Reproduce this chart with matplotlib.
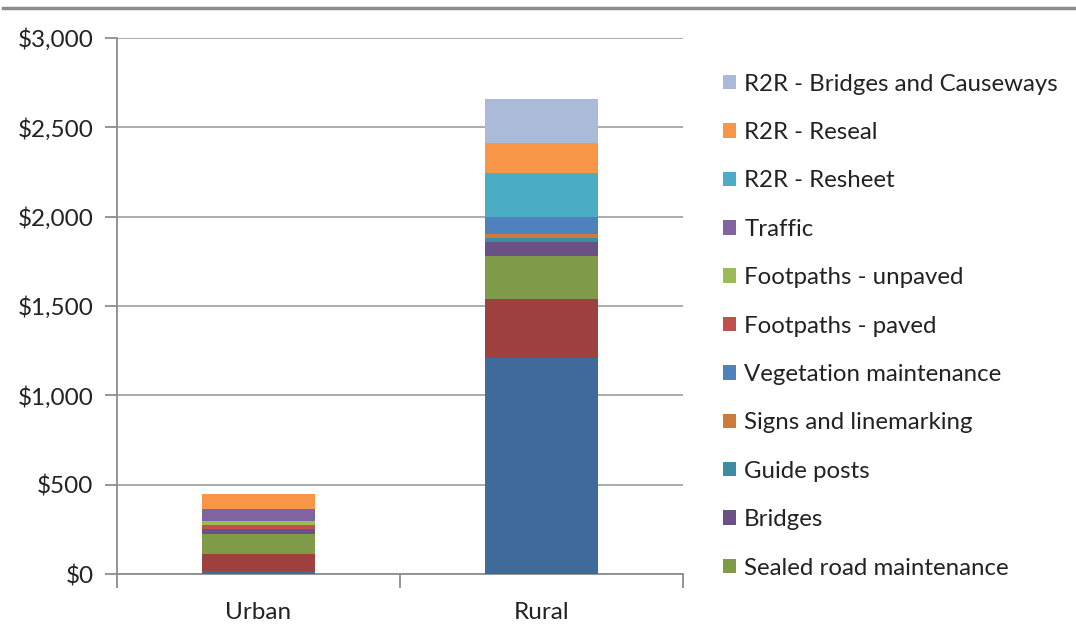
import numpy as np
import matplotlib
matplotlib.use("Agg")
from matplotlib import pyplot as plt
from matplotlib.lines import Line2D
from matplotlib.ticker import FuncFormatter

plt.rcParams['font.family'] = ['Lato', 'DejaVu Sans']

categories = ["Urban", "Rural"]

# series in stacking order, bottom to top
series_names = [
    "Unsealed road maintenance",
    "Drainage",
    "Sealed road maintenance",
    "Bridges",
    "Guide posts",
    "Signs and linemarking",
    "Vegetation maintenance",
    "Footpaths - paved",
    "Footpaths - unpaved",
    "Traffic",
    "R2R - Resheet",
    "R2R - Reseal",
    "R2R - Bridges and Causeways",
]
urban_values = [17, 95, 114, 26, 0, 0, 0, 22, 21, 71, 0, 80, 0]
rural_values = [1210, 327, 244, 79, 22, 21, 97, 0, 0, 0, 243, 171, 244]
colors = ["#3F6A9A", "#9E413E", "#7F9A48", "#695185", "#3C8DA3", "#CC7B38",
          "#4F81BD", "#C0504D", "#9BBB59", "#8064A2", "#4BACC6", "#F79646",
          "#AABAD8"]
# the legend only shows these (rest is cut off in the original)
n_legend = 11

fig = plt.figure(figsize=(10.76, 6.39), dpi=100)
ax = fig.add_axes([117/1076, 1-574/639, (683-117)/1076, (574-38)/639])

x = np.arange(len(categories))
bottom = np.zeros(len(categories))
bars = []
for name, u, r, c in zip(series_names, urban_values, rural_values, colors):
    vals = np.array([u, r], dtype=float)
    b = ax.bar(x, vals, width=0.4, bottom=bottom, color=c, label=name,
               edgecolor='none', zorder=3)
    bars.append(b)
    bottom += vals

ax.set_xlim(-0.5, 1.5)
ax.set_ylim(0, 3000)
ax.set_yticks(np.arange(0, 3001, 500))
ax.yaxis.set_major_formatter(FuncFormatter(lambda v, p: "${:,.0f}".format(v)))
ax.set_xticks(x)
ax.set_xticklabels(categories)
ax.set_xticks([-0.5, 0.5, 1.5], minor=True)

ax.grid(axis='y', color='#A6A6A6', linewidth=1.3, zorder=0)
for s in ['top', 'right']:
    ax.spines[s].set_visible(False)
for s in ['left', 'bottom']:
    ax.spines[s].set_color('#8C8C8C')
    ax.spines[s].set_linewidth(1.3)

ax.tick_params(axis='y', length=9, width=1.3, color='#8C8C8C', labelsize=17.5,
               labelcolor='#222222', pad=8)
ax.tick_params(axis='x', which='major', length=0, labelsize=17.5,
               labelcolor='#222222', pad=20)
ax.tick_params(axis='x', which='minor', length=10, width=1.3, color='#8C8C8C')

handles = [bars[i] for i in range(len(bars) - 1, len(bars) - 1 - n_legend, -1)]
labels = [series_names[i] for i in range(len(bars) - 1, len(bars) - 1 - n_legend, -1)]
fig.legend(handles, labels, loc='upper left', bbox_to_anchor=(713/1076, 1-64/639),
           frameon=False, fontsize=17.3, handlelength=0.55, handleheight=0.55,
           handletextpad=0.35, labelspacing=1.14, borderaxespad=0,
           labelcolor='#222222')

fig.add_artist(Line2D([3/1076, 1], [1-8/639, 1-8/639], color='#8C8C8C',
                      linewidth=2.5, transform=fig.transFigure))

plt.savefig("out.png", dpi=100)
